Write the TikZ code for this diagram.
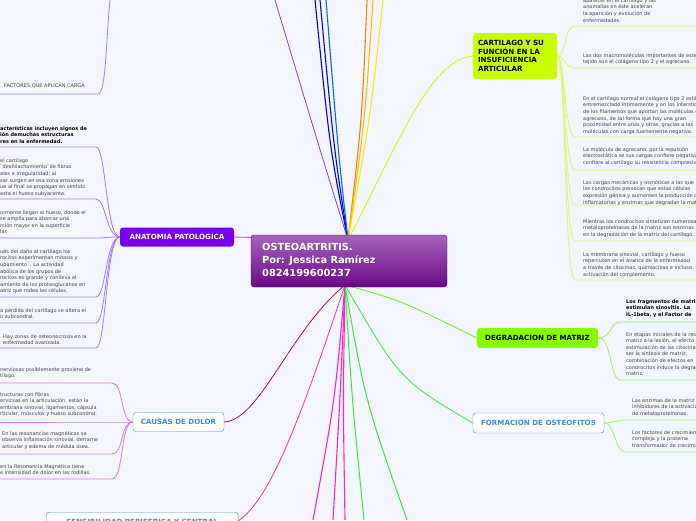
\documentclass[tikz,border=0pt]{standalone}
\usepackage{fontspec}
\setmainfont{DejaVu Sans}
\definecolor{bg}{HTML}{F3F6FD}
\definecolor{cA}{HTML}{A07CFF}
\definecolor{cAna}{HTML}{7A00F2}
\definecolor{cDol}{HTML}{D27AF5}
\definecolor{cBlue}{HTML}{3A8DE0}
\definecolor{cLime}{HTML}{C8FF00}
\definecolor{cLimeL}{HTML}{D8F870}
\definecolor{cDeg}{HTML}{88FF00}
\definecolor{cGrL}{HTML}{A8F070}
\definecolor{cPink}{HTML}{FF22CC}
\definecolor{cGreen}{HTML}{33EE33}
\definecolor{ptop}{HTML}{A463BD}
\definecolor{pbot}{HTML}{6A0A86}
\definecolor{txt}{HTML}{444444}
\tikzset{
 tx/.style={anchor=north west,inner sep=0pt,align=left,text=txt,font=\fontsize{5}{6.6}\selectfont},
 txb/.style={tx,text=black,font=\fontsize{5}{6.6}\selectfont\bfseries},
 lbl/.style={rounded corners=3pt,inner sep=0pt,font=\fontsize{7.1}{8.4}\selectfont\bfseries},
 br/.style={line width=0.8pt},
}
\begin{document}
\begin{tikzpicture}[x=1pt,y=-1pt]
\useasboundingbox (0,0) rectangle (696,520);
\clip (0,0) rectangle (696,520);
\fill[bg] (0,0) rectangle (696,520);
% top fans
\coordinate (c) at (348,240);
\draw[cAna!80,br] (c) .. controls (320,150) .. (275,0);
\draw[blue!85!black,line width=1.1pt] (c) .. controls (330,150) .. (315,0);
\draw[blue,line width=1.1pt] (c) .. controls (334,150) .. (320,0);
\draw[blue!60!cyan,line width=1.1pt] (c) .. controls (338,150) .. (326,0);
\draw[orange,line width=1.1pt] (c) .. controls (362,120) .. (367,0);
\draw[orange!50!yellow,line width=1.1pt] (c) .. controls (365,120) .. (373,0);
\draw[yellow!90!orange,line width=1pt] (c) .. controls (370,120) .. (383,0);
% cartilago
\node[lbl,fill=cLime,minimum width=84pt,minimum height=46pt,text width=74pt,align=left] (cart) at (515,56) {CARTILAGO Y SU\\FUNCIÓN EN LA\\INSUFICIENCIA\\ARTICULAR};
\draw[cLime,br] (c) .. controls (400,140) and (430,60) .. (cart.west);
% anatomia
\node[lbl,fill=cAna,text=white,minimum width=114pt,minimum height=19pt] (ana) at (177,237) {ANATOMIA PATOLOGICA};
\draw[cAna!70,br] (c) -- (ana.east);
% bottom connectors
\coordinate (b) at (345,285);
\node[lbl,fill=white,draw=cBlue,text=cBlue,minimum width=91pt,minimum height=19pt] (dol) at (178.5,422) {CAUSAS DE DOLOR};
\node[lbl,fill=white,draw=cBlue,text=cBlue,minimum width=192pt,minimum height=19pt,anchor=north west] (sen) at (46,512) {SENSIBILIDAD PERIFERICA Y CENTRAL};
\draw[violet!70!magenta,br] (b) .. controls (290,330) and (260,420) .. (dol.east);
\draw[magenta!80,br] (b) .. controls (300,420) and (270,500) .. (238,521);
\draw[cPink,line width=1.1pt] (b) .. controls (335,400) .. (313,520);
\draw[cPink,line width=1.1pt] (b) .. controls (340,400) .. (333,520);
\draw[cPink,line width=1.1pt] (b) .. controls (343,400) .. (345,520);
\draw[cGreen,line width=1pt] (b) .. controls (352,400) .. (364,520);
\draw[cGreen,line width=1pt] (b) .. controls (365,400) .. (407,520);
\node[lbl,fill=cDeg,minimum width=121pt,minimum height=20pt] (deg) at (537.5,338) {DEGRADACION DE MATRIZ};
\node[lbl,fill=white,draw=cBlue,text=cBlue,minimum width=131pt,minimum height=20pt] (ost) at (538.5,423) {FORMACION DE OSTEOFITOS};
\draw[cGreen!80!yellow,br] (b) .. controls (400,300) .. (deg.west);
\draw[cGreen,br] (b) .. controls (400,380) .. (ost.west);
% central
\node[rounded corners=3pt,draw=pbot!80!black,top color=ptop,bottom color=pbot,minimum width=196pt,minimum height=52pt,inner sep=0pt] (cen) at (349,261) {};
\node[anchor=north west,inner sep=0pt,align=left,text=white,font=\fontsize{9.8}{13}\selectfont\bfseries] (cent) at (262,243) {OSTEOARTRITIS.\\Por: Jessica Ramírez\\0824199600237};
% top-left
\node[tx] (f) at (4,84) {FACTORES QUE APLICAN CARGA};
\draw[cA,br] (0,94) -- (98,94) .. controls (106,94) and (106,40) .. (110,0);
% anatomia items
\foreach \y in {147,199,238,297,323,348}{
 \draw[cA,br] (0,\y) -- (96,\y) .. controls (106,\y) and (106,237) .. (ana.west);}
\node[txb] (a1) at (0,126) {acterísticas incluyen signos de\\ión demuchas estructuras\\res en la enfermedad.};
\node[tx] (a2) at (0,158) {el cartílago\\¨deshilachamiento¨de fibras\\ales e irregularidad; al\\sar surgen en esa zona erosiones\\ue al final se propagan en sentido\\asta el hueso subyacente.};
\node[tx] (a3) at (0,210) {ormente llegan al hueso, donde el\\se amplía para abarcar una\\rción mayor en la superficie\\lar.};
\node[tx] (a4) at (0,249) {ués del daño al cartílago los\\rocitos experimentan mitosis y\\upamiento¨. La actividad\\abólica de los grupos de\\rocitos es grande y conlleva el\\amiento de los proteoglucanos en\\atriz que rodea las células.};
\node[tx] (a5) at (0,308) {a pérdida del cartílago se altera el\\o subcondral.};
\node[tx] (a6) at (3,334) {Hay zonas de osteonecrosis en la\\enfermedad avanzada.};
% dolor items
\foreach \y in {383,422,454,479}{
 \draw[cDol,br] (0,\y) -- (112,\y) .. controls (124,\y) and (120,422) .. (dol.west);}
\node[tx] (d1) at (0,367) {nerviosas posiblemente proviene de\\tílago.};
\node[tx] (d2) at (0,392) {tructuras con fibras\\ervicsas en la articulación, están la\\embrana sinovial, ligamentos, cápsula\\rticular, músculos y hueso subcondral.};
\node[tx] (d3) at (2,431) {En las resonancias magnéticas se\\observa inflamación sinovial, derrame\\articular y edema de médula ósea.};
\node[tx] (d4) at (0,464) {en la Resonancia Magnética tiene\\e intensidad de dolor en las rodillas.};
% cartilago items
\foreach \y in {26,68,137,170,205,241,280}{
 \draw[cLimeL,br] (cart.east) .. controls (566,57) and (564,\y) .. (575,\y) -- (698,\y);}
\node[tx] (k1) at (583,-2) {aparecer en el cartílago y las\\anomalías en éste aceleran\\la aparición y evolución de\\enfermedades.};
\node[tx] (k2) at (583,53) {Las dos macromoléculas importantes de este\\tejido son el colágeno tipo 2 y el agrecano.};
\node[tx] (k3) at (583,96) {En el cartílago normal el colágeno tipo 2 está\\entremezclado íntimamente y en los intersticios\\de los filamentos que aportan las moléculas de\\agrecano, de tal forma que hay una gran\\proximidad entre unas y otras, gracias a las\\moléculas con carga fuertemente negativa.};
\node[tx] (k4) at (583,147) {La molécula de agrecano, por la repulsión\\electrostática se sus cargas confiere negativas\\confiere al cartílago su resistencia compresiva.};
\node[tx] (k5) at (583,180) {Las cargas mecánicas y osmóticas a las que\\los condrocitos provocan que estas células\\expresión génica y aumenten la producción de\\inflamatorias y enzimas que degradan la matriz.};
\node[tx] (k6) at (583,219) {Mientras los condrocitos sintetizan numerosas\\metaloproteinasas de la matriz son enzimas\\en la degradación de la matriz del cartílago.};
\node[tx] (k7) at (583,252) {La membrana sinovial, cartílago y hueso\\repercuten en el avance de la enfermedad\\a través de citocinas, quimiocinas e incluso\\activación del complemento.};
% degradacion items
\foreach \y in {322,380}{
 \draw[cGrL,br] (deg.east) .. controls (612,338) and (610,\y) .. (620,\y) -- (698,\y);}
\node[txb] (g1) at (626,299) {Los fragmentos de matriz\\estimulan sinovitis. La\\IL-1beta, y el Factor de};
\node[tx] (g2) at (626,332) {En etapas iniciales de la respuesta\\matriz a la lesión, el efecto\\estimulación de las citocinas\\ser la síntesis de matriz,\\combinación de efectos en\\condrocitos induce la degradación\\matriz.};
% osteofitos items
\foreach \y in {420,452}{
 \draw[cGrL,br] (ost.east) .. controls (615,423) and (615,\y) .. (625,\y) -- (698,\y);}
\node[tx] (o1) at (632,398) {Las enzimas de la matriz\\inhibidores de la activación\\de metaloproteinasas.};
\node[tx] (o2) at (632,430) {Los factores de crecimiento\\compleja y la proteína\\transformador de crecimiento};
\end{tikzpicture}
\end{document}
